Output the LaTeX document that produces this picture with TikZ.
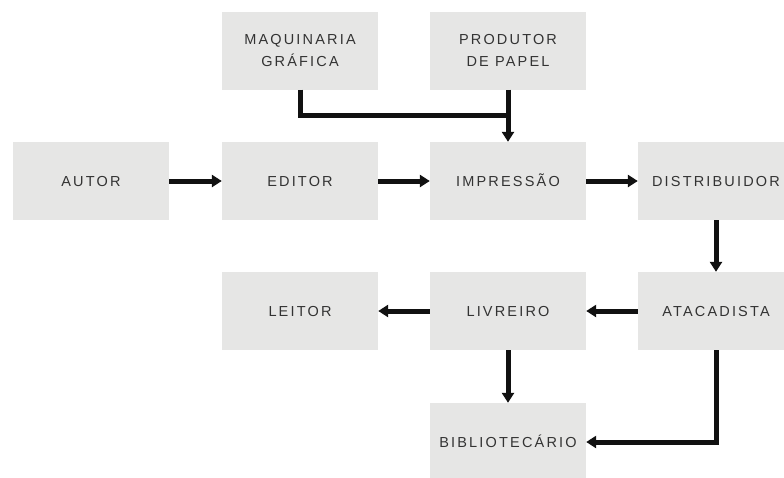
\documentclass[tikz,border=0pt]{standalone}
\usepackage{fontspec}
\setmainfont{Liberation Sans}
\newfontfamily\boxfont[LetterSpace=15]{Liberation Sans}
\usetikzlibrary{arrows.meta}
\definecolor{boxgray}{HTML}{E6E6E5}
\definecolor{txtgray}{HTML}{333333}
\definecolor{arrowblack}{HTML}{111111}
\tikzset{
  stepbox/.style={fill=boxgray, draw=none, minimum width=156pt, minimum height=78pt,
    inner sep=0pt, align=center, text=txtgray, font=\boxfont\fontsize{14.5}{22}\selectfont},
  onebox/.style={stepbox, align=none, text height=10.4pt, text depth=0pt},
  conn/.style={draw=arrowblack, line width=5pt, line join=miter},
  arr/.style={conn, -{Triangle[length=10pt,width=12pt]}, shorten >=0pt},
}
\begin{document}
\begin{tikzpicture}[x=1pt,y=-1pt]
\useasboundingbox (0,0) rectangle (784,477);
\clip (0,0) rectangle (784,477);
\fill[white] (0,0) rectangle (784,477);
\node[stepbox] (maq) at (300,50.5) {MAQUINARIA\\GRÁFICA};
\node[stepbox] (prod) at (508,50.5) {PRODUTOR\\DE PAPEL};
\node[onebox] (autor) at (91,181) {AUTOR};
\node[onebox] (editor) at (300,181) {EDITOR};
\node[onebox] (imp) at (508,181) {IMPRESSÃO};
\node[onebox] (dist) at (716,181) {DISTRIBUIDOR};
\node[onebox] (leitor) at (300,311) {LEITOR};
\node[onebox] (livr) at (508,311) {LIVREIRO};
\node[onebox] (atac) at (716,311) {ATACADISTA};
\node[onebox] (bib) at (508,442) {BIBLIOTECÁRIO};
\coordinate (join) at (508,115);
\draw[conn] (maq.south) |- (join);
\draw[arr] (prod.south) -- (imp.north);
\draw[arr] (autor.east) -- (editor.west);
\draw[arr] (editor.east) -- (imp.west);
\draw[arr] (imp.east) -- (dist.west);
\draw[arr] (dist.south) -- (atac.north);
\draw[arr] (atac.west) -- (livr.east);
\draw[arr] (livr.west) -- (leitor.east);
\draw[arr] (livr.south) -- (bib.north);
\draw[arr] (atac.south) |- (bib.east);
\end{tikzpicture}
\end{document}
